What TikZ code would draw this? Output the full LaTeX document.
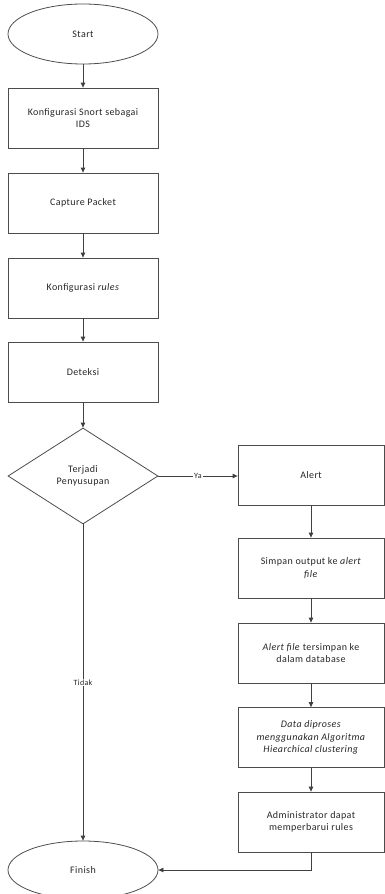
\documentclass[tikz,border=0pt]{standalone}
\usepackage{fontspec}
\setmainfont{Carlito}[LetterSpace=4]
\usetikzlibrary{shapes.geometric,arrows.meta}
\begin{document}
\begin{tikzpicture}[x=1pt,y=-1pt,
  every node/.style={font=\fontsize{10}{12.5}\selectfont, text=black!85},
  proc/.style={draw=black!70, line width=0.8pt, rectangle, minimum width=150pt, minimum height=60pt, align=center, inner sep=2pt},
  procr/.style={proc, minimum width=146pt},
  term/.style={draw=black!70, line width=0.8pt, ellipse, minimum width=150pt, minimum height=60pt, inner sep=0pt},
  dec/.style={draw=black!70, line width=0.8pt, diamond, aspect=1.5625, minimum width=150pt, minimum height=96pt, inner sep=0pt, align=center},
  flow/.style={draw=black!75, line width=0.8pt, -{Triangle[length=5pt,width=4.5pt]}},
  lbl/.style={fill=white, inner sep=1pt, font=\fontsize{8}{9}\selectfont}]
\useasboundingbox (0,0) rectangle (385,894);
\clip (0,0) rectangle (385,894);
\node[term] (start) at (83,34) {Start};
\node[proc] (k1) at (83,118) {Konfigurasi Snort sebagai\\IDS};
\node[proc] (cap) at (83,203) {Capture Packet};
\node[proc] (rules) at (83,288) {Konfigurasi \textit{rules}};
\node[proc] (det) at (83,372) {Deteksi};
\node[dec] (dec) at (83,476) {Terjadi\\Penyusupan};
\node[procr] (alert) at (311,475) {Alert};
\node[procr] (simpan) at (311,568) {Simpan output ke \textit{alert}\\\textit{file}};
\node[procr] (db) at (311,653) {\textit{Alert file} tersimpan ke\\dalam database};
\node[procr] (data) at (311,737.5) {\textit{Data diproses}\\\textit{menggunakan Algoritma}\\\textit{Hiearchical clustering}};
\node[procr] (admin) at (311,822) {Administrator dapat\\memperbarui rules};
\node[term, minimum height=58pt] (finish) at (83,870) {Finish};
\draw[flow] (start) -- (k1);
\draw[flow] (k1) -- (cap);
\draw[flow] (cap) -- (rules);
\draw[flow] (rules) -- (det);
\draw[flow] (det) -- (dec);
\draw[flow] (dec.east) -- node[lbl] {Ya} (alert.west |- dec.east);
\draw[flow] (dec) -- node[lbl] {Tidak} (finish);
\draw[flow] (alert) -- (simpan);
\draw[flow] (simpan) -- (db);
\draw[flow] (db) -- (data);
\draw[flow] (data) -- (admin);
\draw[flow] (admin.south) |- (finish.east);
\end{tikzpicture}
\end{document}
